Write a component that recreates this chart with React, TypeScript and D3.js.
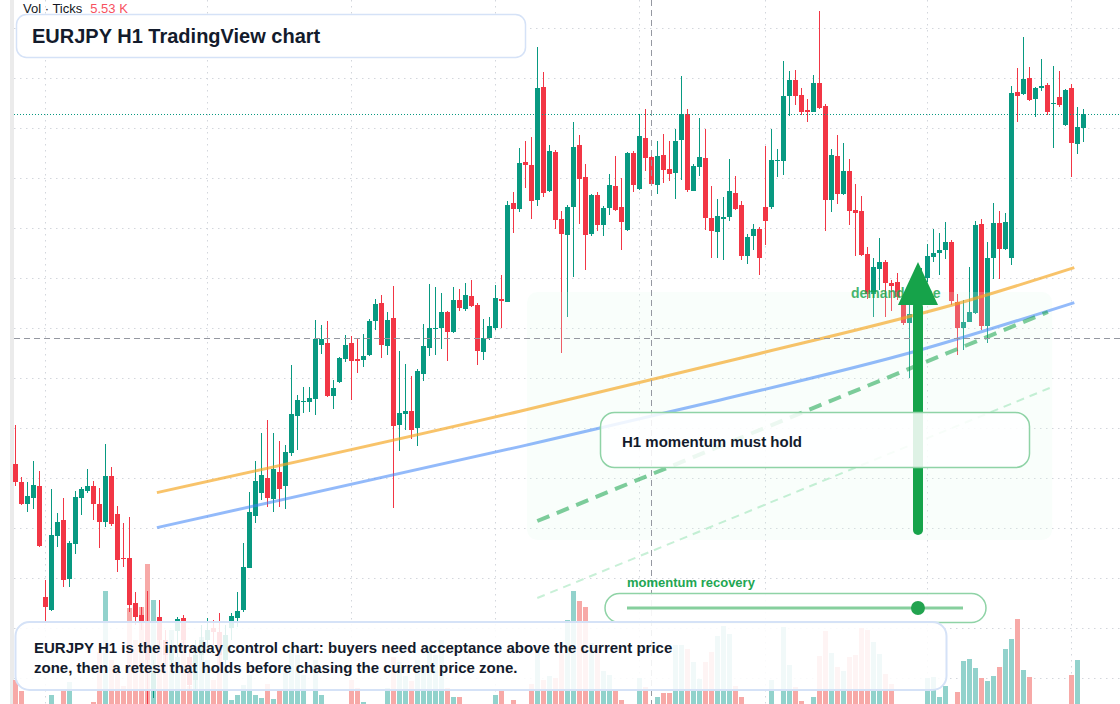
import { useEffect, useRef } from "react";
import * as d3 from "d3";

// EURJPY H1 candles (bar index = hour)
const opens = [
  160.57, 160.48, 160.372, 160.402, 160.459, 159.905, 159.84, 160.212, 160.29, 159.997,
  160.172, 160.402, 160.435, 160.459, 160.37, 160.282, 160.51, 160.32, 160.099, 160.1,
  159.875, 159.815, 159.785, 159.435, 159.805, 159.69, 159.59, 159.735, 159.8, 159.605,
  159.49, 159.615, 159.69, 159.75, 159.73, 159.59, 159.75, 159.8, 159.84, 160.052,
  160.312, 160.427, 160.5, 160.397, 160.532, 160.462, 160.627, 160.812, 160.88, 160.882,
  160.895, 161.167, 161.175, 160.912, 160.982, 161.097, 161.175, 161.095, 161.09, 161.115,
  161.287, 161.375, 161.162, 161.3, 160.765, 160.822, 160.835, 160.752, 161.022, 161.152,
  161.247, 161.25, 161.33, 161.232, 161.39, 161.344, 161.41, 161.365, 161.132, 161.199,
  161.249, 161.395, 161.382, 161.874, 161.845, 162.08, 162.065, 161.89, 162.455, 161.935,
  162.13, 161.795, 161.715, 161.855, 162.165, 162.005, 161.72, 161.915, 161.765, 161.852,
  161.96, 161.855, 161.742, 162.125, 161.945, 162.2, 162.105, 161.967, 162.115, 162.045,
  162.027, 162.192, 162.32, 161.937, 162.057, 162.1, 161.8, 161.732, 161.797, 161.807,
  161.925, 161.865, 161.612, 161.712, 161.745, 161.855, 161.855, 162.087, 162.087, 162.412,
  162.49, 162.415, 162.34, 162.332, 162.475, 162.36, 161.892, 162.11, 161.922, 162.035,
  161.84, 161.835, 161.62, 161.422, 161.547, 161.58, 161.475, 161.48, 161.365, 161.277,
  161.32, 161.39, 161.502, 161.607, 161.627, 161.639, 161.68, 161.379, 161.252, 161.282,
  161.327, 161.77, 161.262, 161.602, 161.775, 161.647, 161.602, 162.43, 162.422, 162.5,
  162.397, 162.45, 162.465, 162.37, 162.405, 162.267, 162.45, 162.172, 162.252,
];
const highs = [
  160.765, 160.505, 160.48, 160.585, 160.535, 159.99, 160.445, 160.325, 160.4, 160.185,
  160.435, 160.455, 160.545, 160.485, 160.45, 160.67, 160.555, 160.36, 160.275, 160.305,
  159.93, 159.855, 159.935, 159.59, 159.89, 159.74, 159.69, 159.805, 159.815, 159.64,
  159.69, 159.765, 159.8, 159.79, 159.825, 159.765, 159.825, 159.93, 160.175, 160.43,
  160.585, 160.725, 160.79, 160.725, 160.685, 160.665, 161.065, 160.915, 160.957, 160.957,
  161.29, 161.265, 161.285, 160.99, 161.105, 161.214, 161.21, 161.197, 161.22, 161.295,
  161.395, 161.414, 161.33, 161.462, 161.135, 161.07, 161.01, 161.045, 161.269, 161.47,
  161.457, 161.424, 161.335, 161.454, 161.445, 161.474, 161.49, 161.375, 161.295, 161.305,
  161.465, 161.515, 161.885, 161.929, 162.15, 162.185, 162.205, 162.657, 162.53, 162.165,
  162.14, 161.835, 161.865, 162.28, 162.215, 162.07, 161.922, 161.93, 161.86, 162.02,
  162.11, 162.002, 162.13, 162.135, 162.32, 162.345, 162.135, 162.185, 162.22, 162.185,
  162.245, 162.51, 162.345, 162.07, 162.3, 162.245, 161.96, 161.895, 161.905, 162.095,
  162.01, 161.885, 161.72, 161.77, 161.755, 162.16, 162.245, 162.145, 162.585, 162.535,
  162.54, 162.45, 162.395, 162.515, 162.835, 162.37, 162.145, 162.215, 162.175, 162.095,
  161.97, 161.91, 161.657, 161.6, 161.7, 161.59, 161.492, 161.527, 161.39, 161.365,
  161.44, 161.55, 161.67, 161.745, 161.725, 161.78, 161.69, 161.42, 161.392, 161.555,
  161.785, 161.795, 161.68, 161.875, 161.835, 161.825, 162.46, 162.55, 162.705, 162.555,
  162.455, 162.595, 162.475, 162.56, 162.535, 162.445, 162.47, 162.355, 162.345,
];
const lows = [
  160.46, 160.365, 160.332, 160.345, 160.155, 159.78, 159.835, 160.155, 159.955, 159.955,
  160.12, 160.315, 160.425, 160.29, 160.15, 160.255, 160.26, 160.03, 160.055, 159.83,
  159.765, 159.74, 159.36, 159.4, 159.64, 159.565, 159.55, 159.605, 159.665, 159.44,
  159.44, 159.59, 159.65, 159.665, 159.565, 159.54, 159.69, 159.755, 159.83, 160.05,
  160.277, 160.39, 160.357, 160.33, 160.357, 160.344, 160.61, 160.64, 160.825, 160.832,
  160.815, 161.12, 160.905, 160.847, 160.975, 161.079, 160.892, 161.027, 161.057, 161.11,
  161.24, 161.102, 161.114, 160.35, 160.635, 160.74, 160.695, 160.662, 160.985, 161.112,
  161.115, 161.145, 161.087, 161.225, 161.335, 161.335, 161.355, 161.065, 161.09, 161.19,
  161.24, 161.25, 161.38, 161.727, 161.832, 161.95, 161.795, 161.862, 161.907, 161.93,
  161.745, 161.124, 161.307, 161.507, 161.77, 161.542, 161.71, 161.737, 161.712, 161.817,
  161.835, 161.64, 161.735, 161.932, 161.94, 162.037, 161.96, 161.922, 161.977, 161.987,
  161.897, 161.992, 161.932, 161.933, 162.012, 161.742, 161.602, 161.599, 161.592, 161.787,
  161.84, 161.592, 161.572, 161.642, 161.517, 161.665, 161.845, 162.007, 162.015, 162.312,
  162.365, 162.315, 162.282, 162.328, 162.345, 161.737, 161.832, 161.872, 161.915, 161.767,
  161.612, 161.61, 161.397, 161.307, 161.44, 161.307, 161.337, 161.39, 161.265, 161.0,
  161.29, 161.365, 161.48, 161.58, 161.515, 161.595, 161.365, 161.115, 161.14, 161.28,
  161.32, 161.24, 161.174, 161.497, 161.497, 161.64, 161.567, 162.282, 162.415, 162.385,
  162.307, 162.437, 162.317, 162.152, 162.357, 162.262, 162.007, 162.122, 162.182,
];
const closes = [
  160.482, 160.372, 160.41, 160.464, 160.16, 159.855, 160.215, 160.28, 159.992, 160.175,
  160.405, 160.445, 160.459, 160.372, 160.282, 160.51, 160.27, 160.092, 160.095, 159.867,
  159.805, 159.785, 159.59, 159.53, 159.69, 159.615, 159.665, 159.795, 159.69, 159.465,
  159.615, 159.69, 159.74, 159.73, 159.615, 159.715, 159.81, 159.835, 160.055, 160.33,
  160.485, 160.515, 160.402, 160.545, 160.447, 160.63, 160.82, 160.89, 160.885, 160.902,
  161.195, 161.195, 160.912, 160.952, 161.102, 161.165, 161.085, 161.085, 161.11, 161.287,
  161.37, 161.165, 161.292, 160.762, 160.825, 160.835, 160.742, 161.035, 161.16, 161.25,
  161.25, 161.33, 161.232, 161.39, 161.352, 161.415, 161.362, 161.137, 161.199, 161.26,
  161.399, 161.385, 161.865, 161.847, 162.075, 162.067, 161.887, 162.45, 161.925, 162.135,
  161.79, 161.72, 161.855, 162.155, 161.995, 161.717, 161.915, 161.767, 161.85, 161.965,
  161.842, 161.782, 162.125, 161.967, 162.21, 162.102, 161.972, 162.11, 162.042, 162.022,
  162.185, 162.32, 161.94, 162.06, 162.105, 161.802, 161.737, 161.81, 161.804, 161.935,
  161.845, 161.612, 161.705, 161.745, 161.602, 161.785, 162.09, 162.09, 162.41, 162.49,
  162.412, 162.332, 162.332, 162.475, 162.352, 161.892, 162.115, 161.922, 162.035, 161.837,
  161.827, 161.617, 161.422, 161.555, 161.582, 161.477, 161.462, 161.405, 161.277, 161.322,
  161.39, 161.49, 161.61, 161.625, 161.64, 161.68, 161.387, 161.252, 161.282, 161.332,
  161.765, 161.262, 161.602, 161.775, 161.644, 161.78, 162.425, 162.412, 162.495, 162.392,
  162.45, 162.46, 162.332, 162.375, 162.364, 162.44, 162.177, 162.255, 162.32,
];
// tick volume per bar
const volumes = [
  1280, 840, 160, 160, 240, 280, 680, 240, 880, 1200,
  240, 200, 200, 412, 2400, 4840, 2080, 1800, 1040, 4160,
  2880, 4200, 5920, 4480, 3400, 2480, 3280, 2200, 3200, 1040,
  2680, 3000, 2080, 1280, 2480, 1680, 480, 680, 1080, 1480,
  680, 560, 1120, 520, 880, 1680, 2480, 2280, 1480, 240,
  2080, 680, 240, 240, 160, 200, 1280, 960, 400, 240,
  240, 200, 960, 2200, 2000, 1440, 1240, 2080, 1880, 2560,
  2280, 2880, 960, 600, 600, 160, 160, 160, 160, 160,
  680, 880, 160, 480, 160, 160, 1120, 2480, 1280, 1440,
  1360, 2360, 3680, 4840, 4440, 4200, 2760, 2480, 1640, 1480,
  880, 480, 160, 160, 1360, 1000, 320, 600, 760, 760,
  2680, 2680, 2520, 2000, 1320, 2000, 2400, 3040, 3440, 3120,
  1040, 600, 160, 160, 160, 160, 1280, 160, 3400, 1880,
  1000, 440, 160, 600, 2240, 3240, 2360, 1800, 1640, 2200,
  2280, 3360, 3280, 2800, 2320, 1520, 1120, 160, 160, 160,
  160, 160, 1360, 1400, 600, 1040, 160, 800, 2040, 2120,
  1760, 1360, 1240, 1440, 1800, 2520, 2920, 3720, 1680, 1400,
  160, 160, 160, 160, 160, 160, 1480, 2080, 160,
];

const timeGridBars = [5, 32, 56, 80, 104, 125, 152, 176];
const priceGrid = [162.75, 162.5, 162.25, 162.0, 161.75, 161.5, 161.25, 161.0, 160.75, 160.5, 160.25, 160.0, 159.75, 159.5];
const lastPrice = 162.32;
const crossBar = 106;
const crossPrice = 161.2;

// drawn overlays, [bar, price]
const orangeTrend: [number, number][] = [[23.6, 160.427], [84.1, 160.834], [120.8, 161.099], [159.1, 161.39], [176.5, 161.552]];
const blueTrend: [number, number][] = [[23.6, 160.252], [84.1, 160.657], [117.5, 160.89], [150.8, 161.14], [176.5, 161.377]];
const momentumPath: [number, number][] = [[87, 160.285], [172.1, 161.33]];
const recoveryPath: [number, number][] = [[87, 159.9], [172.4, 160.95]];
const demandZone = { from: 85.3, to: 172.8, top: 161.43, bottom: 160.19 };
const arrowBar = 150.45;
const arrowFrom = 160.24;
const arrowTip = 161.58;
const arrowHeadBase = 161.365;
const momentumRecovery = 0.866;

const noteLines = [
  "EURJPY H1 is the intraday control chart: buyers need acceptance above the current price",
  "zone, then a retest that holds before chasing the current price zone.",
];

const FONT = "'Liberation Sans', Arial, Helvetica, sans-serif";
const UP = "#089981";
const DOWN = "#f23645";

export default function App() {
  const ref = useRef<SVGSVGElement>(null);

  useEffect(() => {
    if (!ref.current) return;
    const svg = d3.select(ref.current);
    svg.selectAll("*").remove();

    const width = 1120;
    const height = 704;

    const x = d3.scaleLinear().domain([0, 178]).range([15.3, 1083.3]);
    const y = d3.scaleLinear().domain([159.37, 162.89]).range([height, 0]);
    const vy = d3.scaleLinear().domain([0, 6000]).range([712, 562]);

    const bars = opens.map((o, i) => ({ i, o, h: highs[i], l: lows[i], c: closes[i], v: volumes[i] }));

    svg.append("rect").attr("width", width).attr("height", height).attr("fill", "#ffffff");
    svg.append("rect").attr("x", 10).attr("width", 4).attr("height", height).attr("fill", "#ebebeb");

    // grid
    const grid = svg.append("g").attr("stroke", "#d3d6dc").attr("stroke-dasharray", "1.5 4.5");
    grid
      .selectAll("line.h")
      .data(priceGrid)
      .join("line")
      .attr("x1", 14)
      .attr("x2", width)
      .attr("y1", (d) => Math.round(y(d)) + 0.5)
      .attr("y2", (d) => Math.round(y(d)) + 0.5);
    grid
      .selectAll("line.v")
      .data(timeGridBars)
      .join("line")
      .attr("x1", (d) => Math.round(x(d)) + 0.5)
      .attr("x2", (d) => Math.round(x(d)) + 0.5)
      .attr("y1", 0)
      .attr("y2", height);

    // volume
    svg
      .append("g")
      .attr("shape-rendering", "crispEdges")
      .selectAll("rect")
      .data(bars)
      .join("rect")
      .attr("x", (d) => Math.round(x(d.i)) - 2)
      .attr("width", 5)
      .attr("y", (d) => vy(d.v))
      .attr("height", (d) => 712 - vy(d.v))
      .attr("fill", (d) => (d.c >= d.o ? "#92d2cc" : "#f7a9a7"));

    // candles
    const cg = svg.append("g").attr("shape-rendering", "crispEdges");
    cg.selectAll("rect.wick")
      .data(bars)
      .join("rect")
      .attr("x", (d) => Math.round(x(d.i)))
      .attr("width", 1)
      .attr("y", (d) => y(d.h))
      .attr("height", (d) => y(d.l) - y(d.h))
      .attr("fill", (d) => (d.c >= d.o ? UP : DOWN));
    cg.selectAll("rect.body")
      .data(bars)
      .join("rect")
      .attr("x", (d) => Math.round(x(d.i)) - 2)
      .attr("width", 5)
      .attr("y", (d) => y(Math.max(d.o, d.c)))
      .attr("height", (d) => Math.max(1, Math.abs(y(d.o) - y(d.c))))
      .attr("fill", (d) => (d.c >= d.o ? UP : DOWN));

    // demand zone shading
    svg
      .append("rect")
      .attr("x", x(demandZone.from))
      .attr("y", y(demandZone.top))
      .attr("width", x(demandZone.to) - x(demandZone.from))
      .attr("height", y(demandZone.bottom) - y(demandZone.top))
      .attr("rx", 10)
      .attr("fill", "#e3f8ea")
      .attr("opacity", 0.2);

    const line = d3
      .line<[number, number]>()
      .x((d) => x(d[0]))
      .y((d) => y(d[1]))
      .curve(d3.curveMonotoneX);

    svg.append("path").attr("d", line(orangeTrend)).attr("fill", "none")
      .attr("stroke", "#f5a623").attr("stroke-opacity", 0.68).attr("stroke-width", 3);
    svg.append("path").attr("d", line(blueTrend)).attr("fill", "none")
      .attr("stroke", "#3b82f6").attr("stroke-opacity", 0.55).attr("stroke-width", 3);
    svg.append("path").attr("d", line(momentumPath)).attr("fill", "none")
      .attr("stroke", "#16a34a").attr("stroke-opacity", 0.55).attr("stroke-width", 4)
      .attr("stroke-dasharray", "13 8");
    svg.append("path").attr("d", line(recoveryPath)).attr("fill", "none")
      .attr("stroke", "#22c55e").attr("stroke-opacity", 0.25).attr("stroke-width", 2)
      .attr("stroke-dasharray", "8 6");

    // crosshair + last price
    svg.append("line").attr("x1", 14).attr("x2", width)
      .attr("y1", Math.round(y(crossPrice)) + 0.5).attr("y2", Math.round(y(crossPrice)) + 0.5)
      .attr("stroke", "#9598a1").attr("stroke-dasharray", "6 4");
    svg.append("line").attr("y1", 0).attr("y2", height)
      .attr("x1", Math.round(x(crossBar)) + 0.5).attr("x2", Math.round(x(crossBar)) + 0.5)
      .attr("stroke", "#9598a1").attr("stroke-dasharray", "6 4");
    svg.append("line").attr("x1", 14).attr("x2", width)
      .attr("y1", Math.round(y(lastPrice)) + 0.5).attr("y2", Math.round(y(lastPrice)) + 0.5)
      .attr("stroke", UP).attr("stroke-dasharray", "1 2");

    // legend
    const legend = svg.append("text").attr("x", 23).attr("y", 13)
      .style("font-family", FONT).style("font-size", "13px");
    legend.append("tspan").attr("fill", "#131722").text("Vol · Ticks");
    legend.append("tspan").attr("dx", 8).attr("fill", "#f7525f").text("5.53 K");

    // title card
    svg.append("rect").attr("x", 16.5).attr("y", 14.5).attr("width", 509).attr("height", 43)
      .attr("rx", 10).attr("fill", "#ffffff").attr("stroke", "#d5e2f7").attr("stroke-width", 1.5);
    svg.append("text").attr("x", 32).attr("y", 43).attr("fill", "#131b2c")
      .style("font-family", FONT).style("font-size", "20px").style("font-weight", "bold")
      .text("EURJPY H1 TradingView chart");

    // demand zone label + arrow
    svg.append("text").attr("x", 851).attr("y", 298).attr("fill", "#16a34a").attr("opacity", 0.8)
      .style("font-family", FONT).style("font-size", "14px").style("font-weight", "bold")
      .text("demand zone");
    const ax = x(arrowBar);
    svg.append("line").attr("x1", ax).attr("x2", ax)
      .attr("y1", y(arrowFrom)).attr("y2", y(arrowHeadBase) + 2)
      .attr("stroke", "#16a34a").attr("stroke-width", 10).attr("stroke-linecap", "round");
    svg.append("path")
      .attr("d", `M${ax - 20},${y(arrowHeadBase)} L${ax},${y(arrowTip)} L${ax + 20},${y(arrowHeadBase)} Z`)
      .attr("fill", "#16a34a");

    // momentum card
    svg.append("rect").attr("x", 600.5).attr("y", 412.5).attr("width", 429).attr("height", 55)
      .attr("rx", 14).attr("fill", "#ffffff").attr("fill-opacity", 0.86)
      .attr("stroke", "#8fd3a6").attr("stroke-width", 1.5);
    svg.append("text").attr("x", 622).attr("y", 447).attr("fill", "#131b2c")
      .style("font-family", FONT).style("font-size", "15px").style("font-weight", "bold")
      .text("H1 momentum must hold");

    // momentum recovery slider
    const s0 = 627;
    const s1 = 963;
    svg.append("text").attr("x", 627).attr("y", 587).attr("fill", "#22a652")
      .style("font-family", FONT).style("font-size", "13px").style("font-weight", "bold")
      .text("momentum recovery");
    svg.append("rect").attr("x", 605).attr("y", 593.5).attr("width", 381).attr("height", 29)
      .attr("rx", 14.5).attr("fill", "#ffffff").attr("fill-opacity", 0.9)
      .attr("stroke", "#8fd3a6").attr("stroke-width", 1.5);
    svg.append("line").attr("x1", s0).attr("x2", s1).attr("y1", 608).attr("y2", 608)
      .attr("stroke", "#86cf9d").attr("stroke-width", 3);
    svg.append("circle").attr("cx", s0 + (s1 - s0) * momentumRecovery).attr("cy", 608).attr("r", 7)
      .attr("fill", "#22a34f");

    // note card
    svg.append("rect").attr("x", 15.5).attr("y", 622).attr("width", 931).attr("height", 68)
      .attr("rx", 14).attr("fill", "#ffffff").attr("fill-opacity", 0.87)
      .attr("stroke", "#d5e2f7").attr("stroke-width", 2);
    svg.append("g")
      .selectAll("text")
      .data(noteLines)
      .join("text")
      .attr("x", 34)
      .attr("y", (_, i) => 653 + i * 20)
      .attr("fill", "#131b2c")
      .style("font-family", FONT)
      .style("font-size", "15px")
      .style("font-weight", "bold")
      .text((d) => d);
  }, []);

  return (
    <svg
      ref={ref}
      width={1120}
      height={704}
      style={{ position: "absolute", left: 0, top: 0, display: "block" }}
    ></svg>
  );
}
